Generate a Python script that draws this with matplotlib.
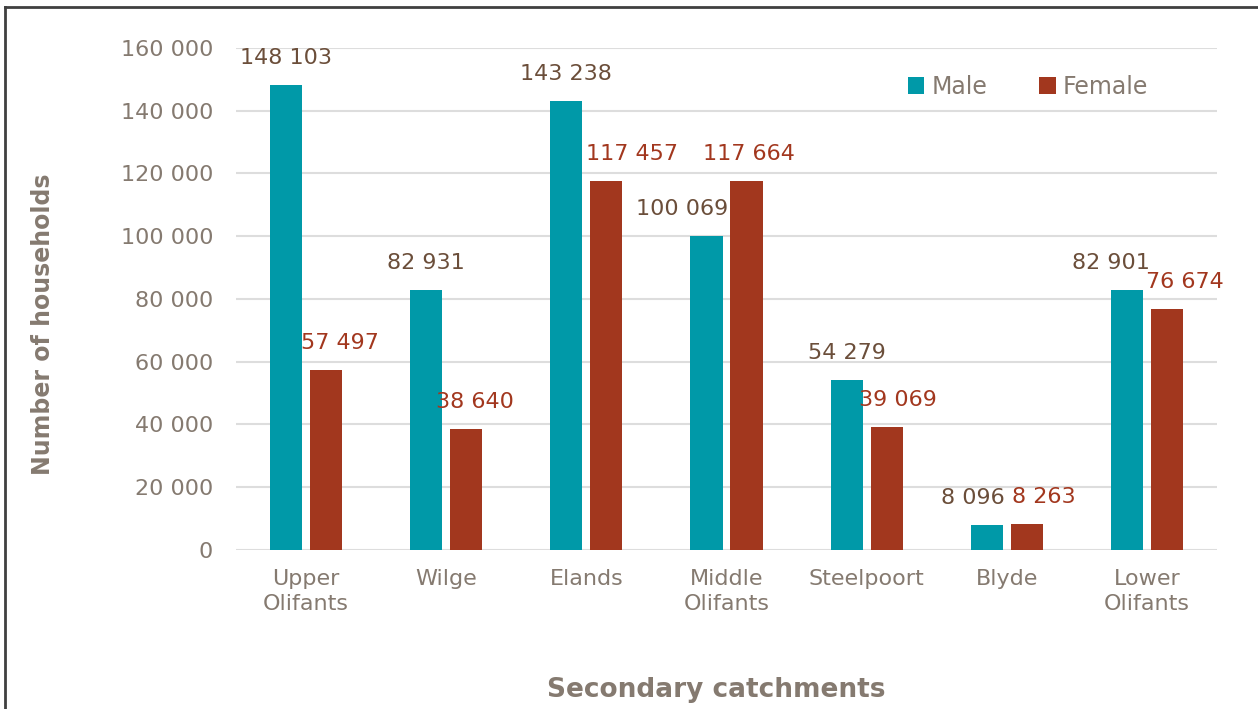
import matplotlib
matplotlib.use('Agg')
import matplotlib.pyplot as plt
import numpy as np
from matplotlib.lines import Line2D

catchments = ['Upper\nOlifants', 'Wilge', 'Elands', 'Middle\nOlifants',
              'Steelpoort', 'Blyde', 'Lower\nOlifants']
male = [148103, 82931, 143238, 100069, 54279, 8096, 82901]
female = [57497, 38640, 117457, 117664, 39069, 8263, 76674]
yticks = [0, 20000, 40000, 60000, 80000, 100000, 120000, 140000, 160000]

# label nudges (pixels), as the original shifted some labels sideways
male_dx = [0, 0, 0, -24, 0, -14, -16]
female_dx = [14, 9, 26, 2, 11, 17, 18]

teal = '#0099A8'
rust = '#A2371E'
grey = '#857A70'
brown = '#6B4E3A'

def fmt(v):
    # thousands separated by a space
    return '{:,}'.format(v).replace(',', ' ')

fig = plt.figure(figsize=(12.58, 7.09), dpi=100)
ax = fig.add_axes([0.1876, 0.2243, 0.7798, 0.708])

x = np.arange(len(catchments))
w = 0.229
off = 0.143
ax.bar(x - off, male, w, color=teal, label='Male', zorder=3)
ax.bar(x + off, female, w, color=rust, label='Female', zorder=3)

for i in range(len(x)):
    ax.annotate(fmt(male[i]), (x[i] - off, male[i]), xytext=(male_dx[i], 27),
                textcoords='offset pixels', ha='center', va='center',
                fontsize=16, color=brown)
    ax.annotate(fmt(female[i]), (x[i] + off, female[i]), xytext=(female_dx[i], 27),
                textcoords='offset pixels', ha='center', va='center',
                fontsize=16, color=rust)

ax.set_xlim(-0.5, len(x) - 0.5)
ax.set_ylim(0, 160000)
ax.set_yticks(yticks)
ax.set_yticklabels([fmt(v) for v in yticks])
ax.set_xticks(x)
ax.set_xticklabels(catchments, linespacing=1.3)
ax.tick_params(axis='y', length=0, pad=16.5, labelsize=16, labelcolor=grey)
ax.tick_params(axis='x', length=0, pad=14, labelsize=16, labelcolor=grey)
ax.grid(axis='y', color='#DDDDDD', linewidth=1.5, zorder=0)
for s in ax.spines.values():
    s.set_visible(False)

# axis titles
fig.text(43 / 1258, 1 - 324 / 709, 'Number of households', rotation=90,
         ha='center', va='center', fontsize=17, fontweight='bold', color=grey)
fig.text(716 / 1258, 1 - 690 / 709, 'Secondary catchments', ha='center',
         va='center', fontsize=19, fontweight='bold', color=grey)

leg = fig.legend(loc='center', bbox_to_anchor=(1028 / 1258, 1 - 87 / 709), ncol=2,
                 frameon=False, fontsize=17, handlelength=0.7, handleheight=0.7,
                 handletextpad=0.3, columnspacing=2.2)
for t in leg.get_texts():
    t.set_color(grey)

# chart frame (left and top edges visible)
fig.add_artist(Line2D([5 / 1258, 5 / 1258], [0, 1 - 7 / 709], color='#404040', linewidth=2))
fig.add_artist(Line2D([5 / 1258, 1], [1 - 7 / 709, 1 - 7 / 709], color='#404040', linewidth=2))

fig.savefig('out.png', dpi=100)
